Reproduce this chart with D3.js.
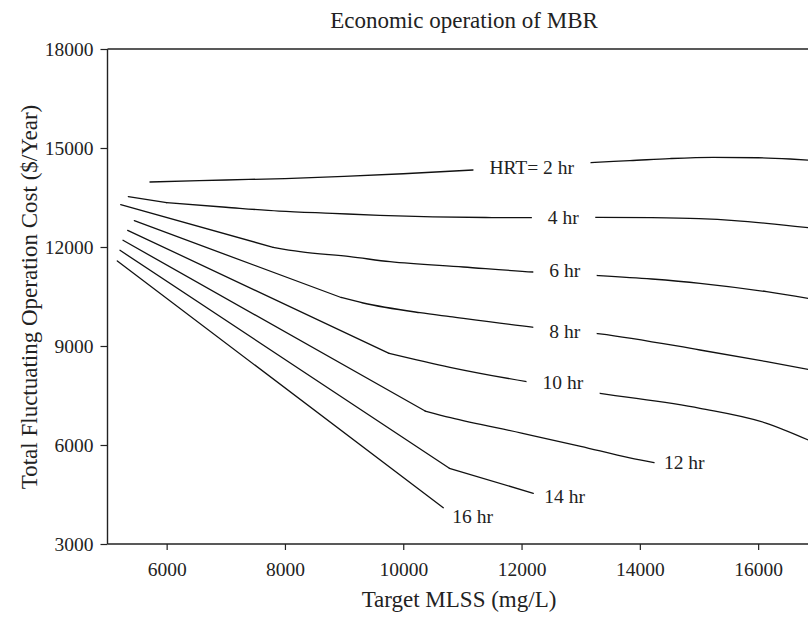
<!DOCTYPE html>
<html>
<head>
<meta charset="utf-8">
<script src="https://cdn.jsdelivr.net/npm/d3@7"></script>
<style>
  html, body { margin: 0; padding: 0; background: #fff; }
  svg { display: block; font-family: "Liberation Serif", "Times New Roman", serif; }
</style>
</head>
<body>
<svg id="chart" width="808" height="617"></svg>
<script>
// Total fluctuating operation cost vs target MLSS, one curve per HRT
const hrtNames = ["HRT= 2 hr", "4 hr", "6 hr", "8 hr", "10 hr", "12 hr", "14 hr", "16 hr"];

const hrt2 = [[5718,13970],[7000,14030],[8000,14075],[9000,14140],[10000,14220],[11180,14333],[12200,14450],[13240,14567],[13830,14615],[14500,14680],[15240,14718],[16000,14705],[16540,14667],[16850,14634]];
const hrt4 = [[5352,13524],[6000,13342],[7000,13205],[7900,13090],[8800,13020],[9600,12960],[10500,12915],[11500,12892],[12200,12888],[13300,12900],[14200,12890],[15000,12858],[15600,12800],[16144,12718],[16850,12583]];
const hrt6 = [[5223,13282],[7800,11990],[8255,11858],[9100,11706],[9776,11555],[11015,11394],[12199,11242],[13242,11142],[14200,11030],[15017,10900],[16144,10645],[16850,10440]];
const hrt8 = [[5453,12797],[8950,10470],[9322,10303],[10283,10009],[10790,9888],[12211,9567],[13326,9370],[15017,8879],[16144,8525],[16850,8290]];
const hrt10 = [[5341,12506],[9760,8779],[10790,8355],[12087,7918],[13326,7567],[15017,7112],[16144,6658],[16850,6150]];
const hrt12 = [[5262,12203],[10370,7030],[10800,6830],[12000,6360],[13000,5960],[13830,5610],[14240,5464]];
const hrt14 = [[5211,11900],[10780,5294],[12199,4536]];
const hrt16 = [[5166,11576],[10677,4100]];

const seriesValues = [hrt2, hrt4, hrt6, hrt8, hrt10, hrt12, hrt14, hrt16];
// index of the point where each curve leaves its straight run (0 = smooth throughout)
const kneeIndex = [0, 1, 1, 1, 1, 1, 1, 0];

// where each curve name is written, in data units (text baseline)
const labelX = [12172, 12706, 12730, 12730, 12698, 14408, 12385, 10829];
const labelY = [14203, 12688, 11082, 9233, 7697, 5264, 4252, 3645];
// names sitting inside a break of their own curve
const labelInline = [true, true, true, true, true, false, false, false];

const xTicks = [6000, 8000, 10000, 12000, 14000, 16000];
const yTicks = [3000, 6000, 9000, 12000, 15000, 18000];

const svg = d3.select("#chart");
const plotLeft = 107.5, plotTop = 49, plotBottom = 544;
const serif = "'Liberation Serif', 'Times New Roman', serif";

const x = d3.scaleLinear().domain([5000, 17000]).range([plotLeft, plotLeft + 12 * 59.15]);
const y = d3.scaleLinear().domain([3000, 18000]).range([plotBottom, plotTop]);

// top edge of the plotting box
svg.append("line")
  .attr("x1", x(5000)).attr("x2", x(17000))
  .attr("y1", y(18000)).attr("y2", y(18000))
  .attr("stroke", "#222").attr("stroke-width", 1.4);

// axes
const xAxis = svg.append("g")
  .attr("transform", `translate(0,${plotBottom})`)
  .call(d3.axisBottom(x).tickValues(xTicks).tickSize(6).tickPadding(12).tickFormat(d3.format("d")));
const yAxis = svg.append("g")
  .attr("transform", `translate(${plotLeft},0)`)
  .call(d3.axisLeft(y).tickValues(yTicks).tickSize(7).tickPadding(7).tickFormat(d3.format("d")));

[xAxis, yAxis].forEach(g => {
  g.select(".domain").attr("stroke", "#222").attr("stroke-width", 1.4);
  g.selectAll(".tick line").attr("stroke", "#222").attr("stroke-width", 1.2);
  g.selectAll(".tick text")
    .attr("fill", "#222")
    .style("font-family", serif)
    .style("font-size", "19.5px");
});
// bottom axis runs across the whole box width
xAxis.select(".domain").attr("d", `M${x(5000)},0H${x(17000)}`);
yAxis.select(".domain").attr("d", `M0,${y(3000)}V${y(18000)}`);

// curves: straight run up to the knee, smooth from there on
const straight = d3.line().x(d => x(d[0])).y(d => y(d[1])).curve(d3.curveLinear);
const smooth = d3.line().x(d => x(d[0])).y(d => y(d[1])).curve(d3.curveMonotoneX);
const curves = svg.append("g")
  .attr("fill", "none")
  .attr("stroke", "#111")
  .attr("stroke-width", 1.3)
  .attr("stroke-linejoin", "round")
  .attr("stroke-linecap", "round");
seriesValues.forEach((pts, i) => {
  const k = kneeIndex[i];
  if (k > 0) curves.append("path").attr("d", straight(pts.slice(0, k + 1)));
  curves.append("path").attr("d", smooth(pts.slice(k)));
});

// curve names; inline ones get a white backing that cuts the curve
const lab = svg.append("g");
hrtNames.forEach((name, i) => {
  const g = lab.append("g");
  const t = g.append("text")
    .attr("x", x(labelX[i]))
    .attr("y", y(labelY[i]))
    .attr("text-anchor", labelInline[i] ? "middle" : "start")
    .attr("fill", "#222")
    .style("font-size", "19.5px")
    .text(name);
  if (labelInline[i]) {
    const b = t.node().getBBox();
    g.insert("rect", "text")
      .attr("x", b.x - 16).attr("y", b.y - 2)
      .attr("width", b.width + 32).attr("height", b.height + 4)
      .attr("fill", "#fff");
  }
});

// titles
svg.append("text")
  .attr("x", 464).attr("y", 28)
  .attr("text-anchor", "middle")
  .attr("fill", "#222")
  .style("font-size", "23px")
  .text("Economic operation of MBR");

svg.append("text")
  .attr("x", 459).attr("y", 607)
  .attr("text-anchor", "middle")
  .attr("fill", "#222")
  .style("font-size", "23px")
  .text("Target MLSS (mg/L)");

svg.append("text")
  .attr("transform", `translate(37,297) rotate(-90)`)
  .attr("text-anchor", "middle")
  .attr("fill", "#222")
  .style("font-size", "23px")
  .text("Total Fluctuating Operation Cost ($/Year)");
</script>
</body>
</html>
